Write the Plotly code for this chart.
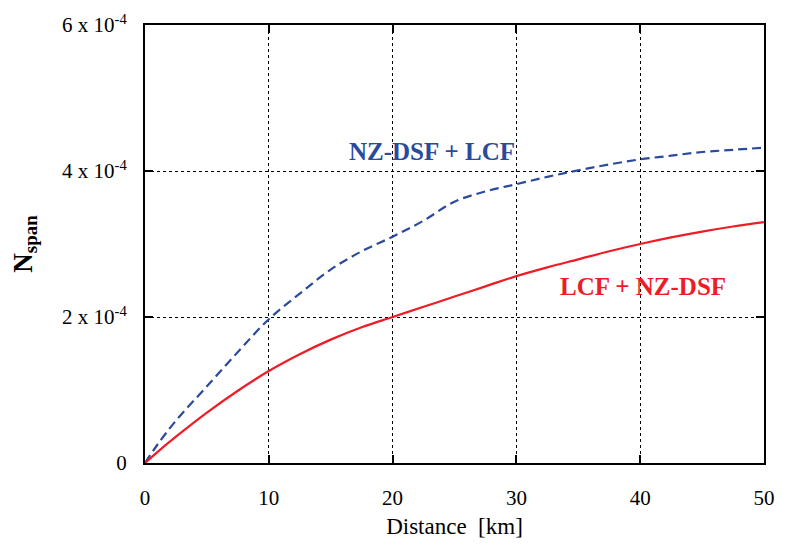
import plotly.graph_objects as go

distance_km = [0, 1, 2.5, 5, 7.5, 10, 12.5, 15, 17.5, 20, 22.5, 25, 27.5, 30, 32.5, 35, 37.5, 40, 42.5, 45, 47.5, 50]
lcf_nzdsf = [0, 0.15e-4, 0.36e-4, 0.69e-4, 0.99e-4, 1.26e-4, 1.49e-4, 1.69e-4, 1.86e-4, 2.0e-4, 2.14e-4, 2.28e-4, 2.42e-4, 2.56e-4, 2.68e-4, 2.79e-4, 2.90e-4, 3.00e-4, 3.09e-4, 3.17e-4, 3.24e-4, 3.30e-4]
nzdsf_lcf = [0, 0.25e-4, 0.58e-4, 1.05e-4, 1.52e-4, 1.97e-4, 2.32e-4, 2.65e-4, 2.90e-4, 3.10e-4, 3.32e-4, 3.58e-4, 3.72e-4, 3.82e-4, 3.92e-4, 4.01e-4, 4.09e-4, 4.16e-4, 4.21e-4, 4.26e-4, 4.29e-4, 4.32e-4]

y_tickvals = [0, 2e-4, 4e-4, 6e-4]
y_ticktext = ["0", "2 x 10<sup>-4</sup>", "4 x 10<sup>-4</sup>", "6 x 10<sup>-4</sup>"]
x_tickvals = [0, 10, 20, 30, 40, 50]

SERIF = "Times New Roman, Liberation Serif, serif"

fig = go.Figure()
fig.add_trace(go.Scatter(x=distance_km, y=nzdsf_lcf, mode="lines", line=dict(color="#2a4a9c", width=2.2, dash="9px,5px"), line_shape="spline", showlegend=False))
fig.add_trace(go.Scatter(x=distance_km, y=lcf_nzdsf, mode="lines", line=dict(color="#ee1c25", width=2.2), line_shape="spline", showlegend=False))

fig.add_annotation(x=23.2, y=4.27e-4, text="<b>NZ-DSF + LCF</b>", showarrow=False, font=dict(family=SERIF, size=25, color="#2a4a9c"))
fig.add_annotation(x=40.2, y=2.42e-4, text="<b>LCF + NZ-DSF</b>", showarrow=False, font=dict(family=SERIF, size=25, color="#ee1c25"))

axis_common = dict(showline=True, linecolor="black", linewidth=2, mirror="ticks", ticks="inside", ticklen=8, tickwidth=2, tickcolor="black",
                   showgrid=True, gridcolor="black", gridwidth=1, griddash="dot", zeroline=False,
                   tickfont=dict(family=SERIF, size=21, color="black"))

fig.update_xaxes(range=[0, 50], tickvals=x_tickvals, ticklabelstandoff=15,
                 title=dict(text="Distance  [km]", font=dict(family=SERIF, size=23, color="black"), standoff=9), **axis_common)
fig.update_yaxes(range=[0, 6e-4], tickvals=y_tickvals, ticktext=y_ticktext, ticklabelstandoff=12,
                 title=dict(text="<b>N<sub>span</sub></b>", font=dict(family=SERIF, size=27, color="black"), standoff=22), **axis_common)

fig.update_layout(width=786, height=551, margin=dict(l=145, r=11, t=18, b=88), plot_bgcolor="white", paper_bgcolor="white",
                  font=dict(family=SERIF))

fig.write_html("out.html")
